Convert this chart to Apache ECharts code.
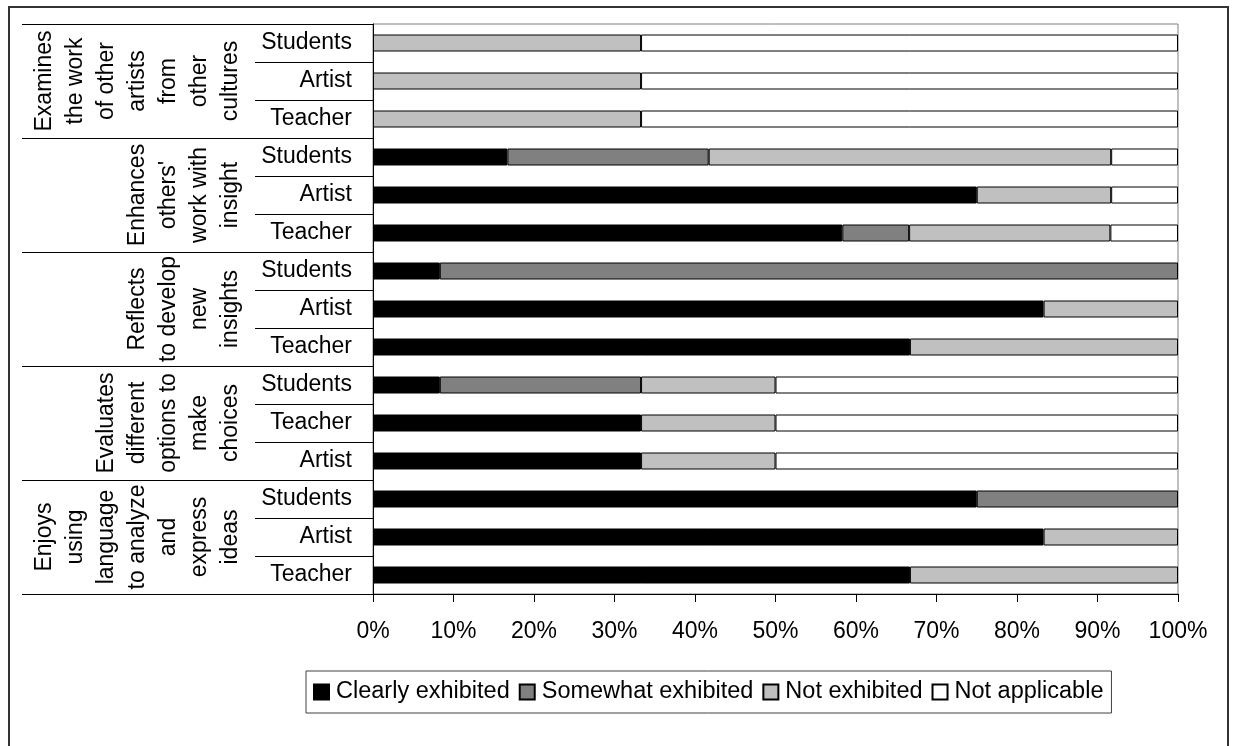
<!DOCTYPE html>
<html>
<head>
<meta charset="utf-8">
<script src="https://cdn.jsdelivr.net/npm/echarts@6/dist/echarts.min.js"></script>
<style>
html,body{margin:0;padding:0;background:#fff;}
#chart{width:1238px;height:746px;}
</style>
</head>
<body>
<div id="chart"></div>
<script>
// Row labels (top to bottom)
const rowLabels = ['Students','Artist','Teacher','Students','Artist','Teacher','Students','Artist','Teacher','Students','Teacher','Artist','Students','Artist','Teacher'];
// Group labels (each spans 3 rows)
const groupLabels = [
  'Examines\nthe work\nof other\nartists\nfrom\nother\ncultures',
  "Enhances\nothers'\nwork with\ninsight",
  'Reflects\nto develop\nnew\ninsights',
  'Evaluates\ndifferent\noptions to\nmake\nchoices',
  'Enjoys\nusing\nlanguage\nto analyze\nand\nexpress\nideas'
];
const seriesNames = ['Clearly exhibited','Somewhat exhibited','Not exhibited','Not applicable'];
const clearly  = [0,0,0,16.7,75,58.3,8.3,83.3,66.7,8.3,33.3,33.3,75,83.3,66.7];
const somewhat = [0,0,0,25,0,8.3,91.7,0,0,25,0,0,25,0,0];
const notEx    = [33.3,33.3,33.3,50,16.7,25,0,16.7,33.3,16.7,16.7,16.7,0,16.7,33.3];
const notApp   = [66.7,66.7,66.7,8.3,8.3,8.4,0,0,0,50,50,50,0,0,0];
const xTicks = [0,10,20,30,40,50,60,70,80,90,100];

const colors = ['#000000','#808080','#c0c0c0','#ffffff'];
const FONT = 'Liberation Sans';
const FS = 23;

const chart = echarts.init(document.getElementById('chart'), null, {renderer:'canvas'});
const values = [clearly, somewhat, notEx, notApp];
const series = seriesNames.map((name,i)=>({
  name: name,
  type: 'bar',
  stack: 'total',
  yAxisIndex: 0,
  barWidth: 17,
  itemStyle: {color: colors[i], borderColor:'#000', borderWidth:1},
  emphasis: {disabled:true},
  data: values[i].map(v => v === 0 ? '-' : v)
}));

chart.setOption({
  animation: false,
  backgroundColor: '#fff',
  textStyle: {fontFamily: FONT},
  grid: {left: 373, top: 24, right: 60, bottom: 152, show: true, borderColor: '#808080', borderWidth: 1, backgroundColor: 'transparent'},
  xAxis: {
    type: 'value', min: xTicks[0], max: xTicks[xTicks.length-1], interval: 10,
    axisLine: {show: true, lineStyle: {color:'#000', width:1}},
    axisTick: {show: true, inside: false, length: 8, lineStyle: {color:'#000'}},
    splitLine: {show: false},
    axisLabel: {formatter: '{value}%', fontFamily: FONT, fontSize: FS, color: '#000', margin: 26}
  },
  yAxis: [
    {
      type: 'category', inverse: true,
      data: rowLabels.map((r,i)=>i+':'+r),
      axisLine: {show: true, lineStyle: {color:'#000', width:1}},
      axisTick: {show: true, interval: 0, length: 118, lineStyle: {color:'#000', width:1}},
      axisLabel: {interval: 0, margin: 21, fontFamily: FONT, fontSize: FS, color:'#000',
        formatter: v => v.split(':')[1]},
      splitLine: {show:false}
    },
    {
      type: 'category', inverse: true, position: 'left',
      data: groupLabels,
      axisLine: {show: false},
      axisTick: {show: true, interval: 0, length: 351, lineStyle: {color:'#000', width:1}},
      axisLabel: {interval: 0, rotate: 90, margin: 127, fontFamily: FONT, fontSize: FS, color:'#000',
        lineHeight: 31, align: 'center'},
      splitLine: {show:false}
    }
  ],
  legend: {
    data: seriesNames,
    left: 306, top: 671,
    orient: 'horizontal',
    itemWidth: 15, itemHeight: 15, itemGap: 9,
    padding: [9, 8, 9, 7],
    borderColor: '#404040', borderWidth: 1,
    textStyle: {fontFamily: FONT, fontSize: 23.5, color:'#000', padding: [0,0,0,2]},
    icon: 'rect',
    selectedMode: false
  },
  graphic: [
    {type:'rect', shape:{x:9, y:7, width:1219, height:745}, style:{fill:'none', stroke:'#333', lineWidth:2}, silent:true, z:-1}
  ],
  series: series
});
</script>
</body>
</html>
